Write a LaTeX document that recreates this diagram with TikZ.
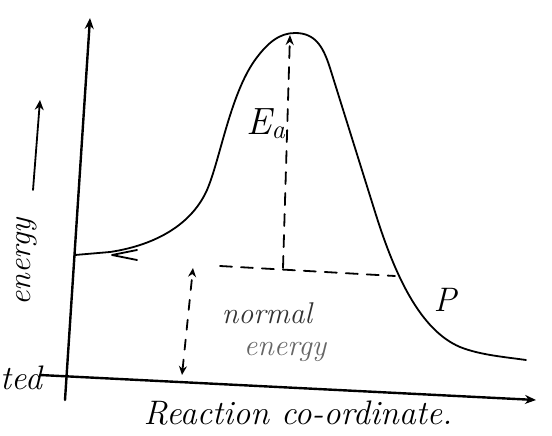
\documentclass[tikz,border=0pt]{standalone}
\usetikzlibrary{arrows.meta}
\begin{document}
\begin{tikzpicture}[x=1pt,y=-1pt,
  ink/.style={line width=1.8pt,line cap=round,line join=round},
  axis/.style={ink,line width=2.4pt,-{Stealth[length=11pt,width=9pt]}},
  dsh/.style={ink,dash pattern=on 12pt off 9pt},
  lbl/.style={font=\fontsize{34}{36}\selectfont\itshape,inner sep=0pt},
  sml/.style={font=\fontsize{30}{32}\selectfont\itshape,inner sep=0pt}]
\useasboundingbox (0,0) rectangle (552,436);
% axes
\coordinate (yb) at (65,400);
\coordinate (yt) at (90,18);
\coordinate (xl) at (40,375);
\coordinate (xr) at (536,400);
\draw[axis] (yb) -- (yt);
\draw[axis] (xl) -- (xr);
% energy profile
\draw[ink] (75,255) -- (110,252) .. controls (150,246) and (190,228) .. (207,190)
  .. controls (220,160) and (230,95) .. (255,60)
  .. controls (268,42) and (280,33) .. (295,33)
  .. controls (315,33) and (323,46) .. (330,68)
  -- (376,215) .. controls (395,275) and (420,330) .. (460,347)
  .. controls (480,355) and (505,357) .. (526,360);
\draw[ink] (137,250) -- (112,255) -- (137,260);
% Ea arrow
\coordinate (eb) at (283,268);
\coordinate (et) at (290,35);
\draw[dsh,-{Stealth[length=10pt,width=8pt]}] (eb) -- (et);
\coordinate (hl) at (220,266);
\coordinate (hr) at (395,276);
\draw[dsh] (hl) -- (hr);
% normal energy arrow
\coordinate (nb) at (182,375);
\coordinate (nt) at (193,268);
\draw[ink,dash pattern=on 10pt off 10pt,{Stealth[length=9pt,width=8pt]}-{Stealth[length=9pt,width=8pt]}] (nb) -- (nt);
% labels
\node[lbl,font=\fontsize{38}{40}\selectfont\itshape] (ea) at (266,124) {E\textsubscript{a}};
\node[lbl] (p) at (445,300) {P};
\node[sml,text=black!80] (norm) at (267,313) {normal};
\node[sml,text=black!60] (nen) at (285,352) {energy};
\node[lbl,font=\fontsize{32}{34}\selectfont\itshape,rotate=90] (en) at (27,262) {energy};
\coordinate (ab) at (33,190);
\coordinate (at) at (40,100);
\draw[ink,-{Stealth[length=10pt,width=9pt]}] (ab) -- (at);
\node[lbl,anchor=east] (ted) at (42,378) {ted};
\node[lbl] (rc) at (298,413) {Reaction co-ordinate.};
\end{tikzpicture}
\end{document}
